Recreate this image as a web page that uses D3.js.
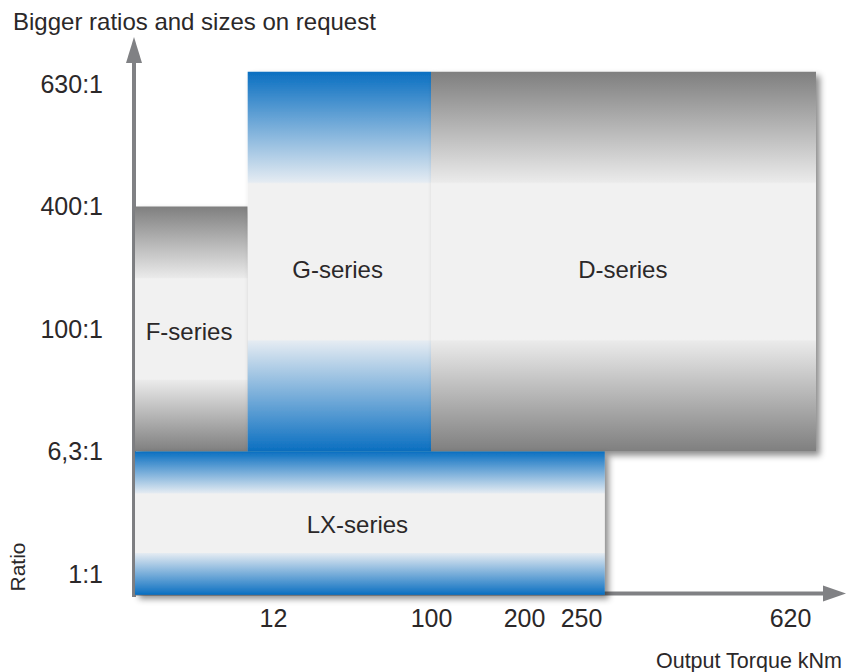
<!DOCTYPE html>
<html>
<head>
<meta charset="utf-8">
<script src="https://cdn.jsdelivr.net/npm/d3@7"></script>
<style>
  body{margin:0;background:#fff;}
  svg text{font-family:"Liberation Sans",Arial,sans-serif;fill:#2b2829;}
</style>
</head>
<body>
<svg id="chart" width="848" height="672"></svg>
<script>
// ratio ticks, bottom to top
var ratioLabels=["1:1","6,3:1","100:1","400:1","630:1"];
// torque ticks (kNm)
var torqueTicks=[12,100,200,250,620];

// series blocks: torque from/to (kNm), ratio from/to (in tick steps)
var series=["F-series","G-series","D-series","LX-series"];
var torqueFrom=[0,9.8,100,0];
var torqueTo=[9.8,100,666,292];
var ratioFrom=[1,1,1,-0.17];
var ratioTo=[3,4.1,4.1,1];
var tone=["gray","blue","gray","blue"];
// where the label sits, in the same units
var labelTorque=[4.7,48,324,59];
var labelRatio=[1.91,2.42,2.42,0.335];

var svg=d3.select('#chart');
var axisColor="#808184";

// piecewise torque scale, the axis is not linear
var x=d3.scaleLinear()
    .domain([0,12,100,200,250,620])
    .range([135,273,431,524,581,790]);
var y=d3.scaleLinear()
    .domain([0,4])
    .range([574,84]);

var defs=svg.append('defs');
function gradient(id,edge,fade){
    var g=defs.append('linearGradient').attr('id',id)
        .attr('x1',0).attr('y1',0).attr('x2',0).attr('y2',1);
    var stops=[[0,edge],[0.29,fade],[0.295,"#f1f1f1"],[0.705,"#f1f1f1"],[0.71,fade],[1,edge]];
    stops.forEach(function(s){
        g.append('stop').attr('offset',s[0]).attr('stop-color',s[1]);
    });
}
gradient('blue',"#0a6fc1","#e4ebf2");
gradient('gray',"#7f7f7f","#eaeaea");

var f=defs.append('filter').attr('id','shadow')
    .attr('x','-10%').attr('y','-10%').attr('width','130%').attr('height','130%');
f.append('feDropShadow').attr('dx',4).attr('dy',4).attr('stdDeviation',3)
    .attr('flood-color','#000').attr('flood-opacity',0.45);

// axes
var yAxisX=134, xAxisY=593.5;
svg.append('line').attr('x1',yAxisX).attr('x2',yAxisX).attr('y1',597).attr('y2',60)
    .attr('stroke',axisColor).attr('stroke-width',4);
svg.append('path').attr('d','M'+yAxisX+',37L'+(yAxisX+8)+',63L'+(yAxisX-8)+',63Z')
    .attr('fill',axisColor);
svg.append('line').attr('x1',132).attr('x2',826).attr('y1',xAxisY).attr('y2',xAxisY)
    .attr('stroke',axisColor).attr('stroke-width',4);
svg.append('path').attr('d','M846,'+xAxisY+'L823,'+(xAxisY-8)+'L823,'+(xAxisY+8)+'Z')
    .attr('fill',axisColor);

// blocks
var blocks=svg.append('g').selectAll('g').data(series).enter().append('g');
blocks.append('rect')
    .attr('x',function(d,i){return x(torqueFrom[i]);})
    .attr('y',function(d,i){return y(ratioTo[i]);})
    .attr('width',function(d,i){return x(torqueTo[i])-x(torqueFrom[i]);})
    .attr('height',function(d,i){return y(ratioFrom[i])-y(ratioTo[i]);})
    .attr('fill',function(d,i){return "url(#"+tone[i]+")";})
    .attr('filter','url(#shadow)');
blocks.append('text')
    .attr('x',function(d,i){return x(labelTorque[i]);})
    .attr('y',function(d,i){return y(labelRatio[i]);})
    .attr('text-anchor','middle')
    .style('font-size','24px')
    .text(function(d){return d;});

// tick labels
var yAxis=svg.append('g').attr('transform','translate('+yAxisX+',0)')
    .call(d3.axisLeft(y).tickValues(d3.range(ratioLabels.length))
        .tickFormat(function(d){return ratioLabels[d];})
        .tickSize(0).tickPadding(31));
var xAxis=svg.append('g').attr('transform','translate(0,'+xAxisY+')')
    .call(d3.axisBottom(x).tickValues(torqueTicks).tickSize(0).tickPadding(16));
[yAxis,xAxis].forEach(function(a){
    a.select('.domain').remove();
    a.selectAll('text').style('font-size','25px').style('fill','#2b2829')
        .style('font-family','"Liberation Sans",Arial,sans-serif');
});

// titles
svg.append('text').attr('x',13).attr('y',30).style('font-size','24px')
    .text("Bigger ratios and sizes on request");
svg.append('text').attr('x',842).attr('y',668).attr('text-anchor','end')
    .style('font-size','21.5px').text("Output Torque kNm");
svg.append('text').attr('transform','translate(25,567) rotate(-90)')
    .attr('text-anchor','middle').style('font-size','21px').text("Ratio");
</script>
</body>
</html>
